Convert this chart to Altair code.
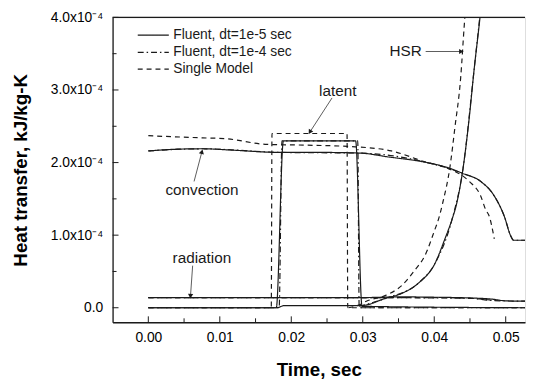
import altair as alt
import pandas as pd

# ---------------- data (heat transfer in units of 1e-4 kJ/kg-K) ----------------
# Fluent, dt=1e-5 sec (solid)
fine_conv_t = [0.0, 0.003, 0.0075, 0.012, 0.0184, 0.024, 0.0297, 0.0334, 0.039, 0.0419, 0.044, 0.0465,
               0.0484, 0.0498, 0.0507, 0.0511, 0.0527]
fine_conv_v = [2.16, 2.18, 2.19, 2.17, 2.14, 2.14, 2.13, 2.08, 2.00, 1.93, 1.85, 1.74,
               1.54, 1.26, 0.99, 0.93, 0.93]
fine_rad_t = [0.0, 0.02, 0.03, 0.035, 0.04, 0.045, 0.048, 0.050, 0.0527]
fine_rad_v = [0.14, 0.14, 0.14, 0.15, 0.145, 0.135, 0.12, 0.095, 0.09]
fine_lat_t = [0.0, 0.0179, 0.0189, 0.0290, 0.0299, 0.0527]
fine_lat_v = [0.0, 0.0, 2.30, 2.30, 0.02, 0.0]
fine_hsr_t = [0.0, 0.018, 0.019, 0.0298, 0.0332, 0.0355, 0.0378, 0.0401, 0.0415, 0.0425, 0.0431,
              0.0440, 0.0449, 0.0456, 0.0464, 0.0468]
fine_hsr_v = [0.0, 0.0, 0.03, 0.03, 0.13, 0.20, 0.34, 0.61, 0.95, 1.22, 1.42,
              1.90, 2.62, 3.30, 4.00, 4.40]

# Fluent, dt=1e-4 sec (dash-dot)
coarse_conv_t = [0.0, 0.0075, 0.0184, 0.0297, 0.039, 0.044, 0.0465, 0.0484, 0.0498, 0.0507, 0.0511, 0.0527]
coarse_conv_v = [2.16, 2.19, 2.14, 2.13, 2.00, 1.85, 1.74, 1.54, 1.26, 0.99, 0.93, 0.93]
coarse_rad_t = [0.0, 0.03, 0.045, 0.048, 0.0527]
coarse_rad_v = [0.14, 0.14, 0.13, 0.10, 0.09]
coarse_lat_t = [0.0, 0.0183, 0.0187, 0.0293, 0.0295, 0.0527]
coarse_lat_v = [0.0, 0.0, 2.30, 2.30, 0.0, 0.0]
coarse_hsr_t = [0.0295, 0.0332, 0.0378, 0.0401, 0.0425, 0.0440, 0.0456, 0.0468]
coarse_hsr_v = [0.02, 0.13, 0.34, 0.61, 1.22, 1.90, 3.30, 4.40]

# Single Model (dashed)
single_conv_t = [0.0, 0.0076, 0.0107, 0.0166, 0.022, 0.0285, 0.034, 0.0387, 0.0419, 0.0449, 0.0465,
                 0.0472, 0.0477, 0.0484]
single_conv_v = [2.37, 2.34, 2.33, 2.25, 2.24, 2.22, 2.16, 2.01, 1.92, 1.74, 1.54,
                 1.35, 1.26, 0.95]
single_rad_t = [0.0, 0.02, 0.03, 0.04, 0.045, 0.0475, 0.0485]
single_rad_v = [0.14, 0.14, 0.14, 0.14, 0.13, 0.11, 0.10]
single_lat_t = [0.0, 0.0172, 0.0173, 0.0278, 0.0279, 0.0527]
single_lat_v = [0.0, 0.0, 2.40, 2.40, 0.0, 0.0]
single_hsr_t = [0.028, 0.0295, 0.0305, 0.0332, 0.0355, 0.0373, 0.0387, 0.0401, 0.0406, 0.0412,
                0.0422, 0.0429, 0.0437, 0.0442, 0.0446]
single_hsr_v = [0.0, 0.04, 0.09, 0.17, 0.31, 0.52, 0.72, 1.08, 1.22, 1.45,
                1.94, 2.49, 3.17, 3.89, 4.40]

models = ["Fluent, dt=1e-5 sec", "Fluent, dt=1e-4 sec", "Single Model"]
dashes = [[1, 0], [6, 3, 1.5, 3], [5, 4]]

# annotations
ann_text = ["latent", "HSR", "convection", "radiation"]
ann_t = [0.0265, 0.0360, 0.0075, 0.0075]
ann_v = [2.99, 3.53, 1.62, 0.68]
arrow_t0 = [0.0257, 0.0388, 0.0064, 0.0062]
arrow_v0 = [2.89, 3.53, 1.74, 0.58]
arrow_t1 = [0.0226, 0.0438, 0.0075, 0.0059]
arrow_v1 = [2.42, 3.53, 2.15, 0.16]
arrow_angle = [212, 90, 15, 183]

# axis ticks
x_major = [0.0, 0.01, 0.02, 0.03, 0.04, 0.05]
x_minor = [0.005, 0.015, 0.025, 0.035, 0.045]
y_major = [0.0, 1.0, 2.0, 3.0, 4.0]
y_minor = [0.5, 1.5, 2.5, 3.5]

# ---------------- build table ----------------
rows = []
def add(model, comp, ts, vs):
    for i, (t, v) in enumerate(zip(ts, vs)):
        rows.append({"model": model, "comp": comp, "key": model + comp, "i": i, "t": t, "v": v})

add(models[0], "conv", fine_conv_t, fine_conv_v)
add(models[0], "rad", fine_rad_t, fine_rad_v)
add(models[0], "lat", fine_lat_t, fine_lat_v)
add(models[0], "hsr", fine_hsr_t, fine_hsr_v)
add(models[1], "conv", coarse_conv_t, coarse_conv_v)
add(models[1], "rad", coarse_rad_t, coarse_rad_v)
add(models[1], "lat", coarse_lat_t, coarse_lat_v)
add(models[1], "hsr", coarse_hsr_t, coarse_hsr_v)
add(models[2], "conv", single_conv_t, single_conv_v)
add(models[2], "rad", single_rad_t, single_rad_v)
add(models[2], "lat", single_lat_t, single_lat_v)
add(models[2], "hsr", single_hsr_t, single_hsr_v)
df = pd.DataFrame(rows)

W, H = 418, 309
FONT = "Liberation Sans"
INK = "#1a1a1a"

xscale = alt.Scale(domain=[-0.005, 0.0527], nice=False, zero=False)
yscale = alt.Scale(domain=[-0.2, 4.0], nice=False, zero=False)

x_enc = alt.X("t:Q", scale=xscale, axis=alt.Axis(
    values=x_major, format=".2f", ticks=False, tickSize=0, grid=False,
    title="Time, sec", titleFontSize=19, titleFontWeight="bold", titlePadding=17,
    labelFontSize=14, labelPadding=8, domainColor=INK, domainWidth=1.3))
y_enc = alt.Y("v:Q", scale=yscale, axis=alt.Axis(
    values=y_major, ticks=False, tickSize=0, grid=False,
    labelExpr="datum.value == 0 ? '0.0' : format(datum.value, '.1f') + 'x10⁻⁴'",
    title="Heat transfer, kJ/kg-K", titleFontSize=19, titleFontWeight="bold", titlePadding=20,
    labelFontSize=14, labelPadding=10, domainColor=INK, domainWidth=1.3))

lines = alt.Chart(df).mark_line(clip=True, strokeWidth=1.2, color=INK, interpolate="monotone").encode(
    x=x_enc, y=y_enc,
    detail="key:N",
    order=alt.Order("i:Q"),
    strokeDash=alt.StrokeDash("model:N", scale=alt.Scale(domain=models, range=dashes), legend=None),
)

ann_df = pd.DataFrame({"label": ann_text, "t": ann_t, "v": ann_v})
ann = alt.Chart(ann_df).mark_text(fontSize=15.5, font=FONT, color=INK).encode(
    x=alt.X("t:Q", scale=xscale), y=alt.Y("v:Q", scale=yscale), text="label:N")

arr_df = pd.DataFrame({"t0": arrow_t0, "v0": arrow_v0, "t1": arrow_t1, "v1": arrow_v1, "ang": arrow_angle})
arr_lines = alt.Chart(arr_df).mark_rule(strokeWidth=0.8, color="#333").encode(
    x=alt.X("t0:Q", scale=xscale), y=alt.Y("v0:Q", scale=yscale), x2="t1:Q", y2="v1:Q")
arr_heads = alt.Chart(arr_df).mark_point(shape="triangle-up", filled=True, size=28, color=INK, opacity=1).encode(
    x=alt.X("t1:Q", scale=xscale), y=alt.Y("v1:Q", scale=yscale), angle=alt.Angle("ang:Q", scale=None))

# inward ticks
xt_major = alt.Chart(pd.DataFrame({"t": x_major})).mark_rule(color=INK, strokeWidth=1).encode(
    x=alt.X("t:Q", scale=xscale), y=alt.value(H), y2=alt.value(H - 6))
xt_minor = alt.Chart(pd.DataFrame({"t": x_minor})).mark_rule(color=INK, strokeWidth=1).encode(
    x=alt.X("t:Q", scale=xscale), y=alt.value(H), y2=alt.value(H - 4))
yt_major = alt.Chart(pd.DataFrame({"v": y_major})).mark_rule(color=INK, strokeWidth=1).encode(
    y=alt.Y("v:Q", scale=yscale), x=alt.value(0), x2=alt.value(6))
yt_minor = alt.Chart(pd.DataFrame({"v": y_minor})).mark_rule(color=INK, strokeWidth=1).encode(
    y=alt.Y("v:Q", scale=yscale), x=alt.value(0), x2=alt.value(4))

top_border = alt.Chart(pd.DataFrame({"a": [0]})).mark_rule(color=INK, strokeWidth=1.3).encode(
    x=alt.value(0), x2=alt.value(W), y=alt.value(0))

# manual legend
legend_layers = []
leg_y = [18, 35.4, 52.4]
for name, dash, yy in zip(models, dashes, leg_y):
    legend_layers.append(alt.Chart(pd.DataFrame({"name": [name]})).mark_rule(
        color=INK, strokeWidth=1.2, strokeDash=dash).encode(
        x=alt.value(25.5), x2=alt.value(57), y=alt.value(yy)))
    legend_layers.append(alt.Chart(pd.DataFrame({"name": [name]})).mark_text(
        align="left", baseline="middle", fontSize=14, font=FONT, color=INK).encode(
        x=alt.value(61.5), y=alt.value(yy), text="name:N"))

chart = alt.layer(
    lines, arr_lines, arr_heads, ann, xt_major, xt_minor, yt_major, yt_minor, top_border, *legend_layers
).properties(
    width=W, height=H,
    autosize=alt.AutoSizeParams(type="none"),
    padding={"left": 106, "top": 7, "right": 1, "bottom": 56},
).configure_view(stroke=None).configure_axis(
    labelFont=FONT, titleFont=FONT, labelColor=INK, titleColor=INK
).configure(background="white")

chart.save("out.html", embed_options={"renderer": "svg", "actions": False})
